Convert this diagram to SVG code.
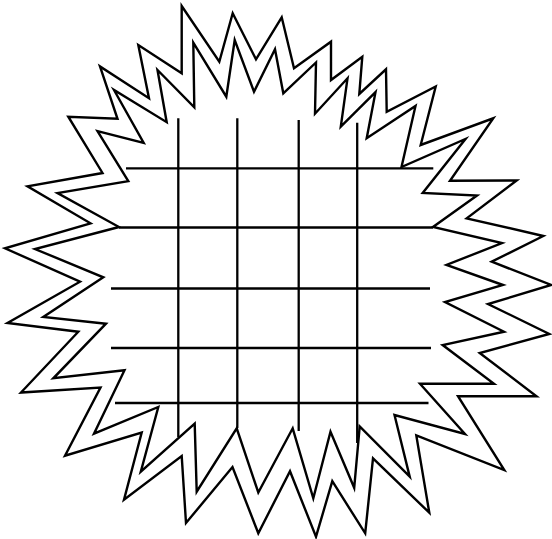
<svg xmlns="http://www.w3.org/2000/svg" width="552" height="539" viewBox="0 0 552 539">
<style>
.s{fill:none;stroke:#000;stroke-width:2.4;stroke-linejoin:miter;stroke-miterlimit:20}
.g{stroke:#000;stroke-width:2.3;fill:none}
</style>
<rect width="552" height="539" fill="#fff"/>
<g id="outer-star">
<polygon class="s" points="181.7,6 219.3,61.7 232.7,13.3 256,59.3 281.7,17.3 294,68.3 331,41.7 331,80 362.3,56.7 359.3,94 386,69.3 386.7,111.7 435.7,86.5 420.7,145 493.3,118.3 450,180.7 516.7,180.5 466.7,218.3 543.3,236 491.7,261.7 551.2,285 488,304 549.3,334 479.7,353 536.5,396.2 458,396.2 504.3,470 416.3,435.5 429.3,512.7 373,458.3 365.2,533.3 332.3,481.2 316,536.7 290,471.2 258.3,533.3 232.5,467 186,523 181.7,456 124,499.6 141.7,432.5 65,455.7 100.5,387.5 21,392.5 78.3,331.7 7.5,323 80,281.7 5,248.3 90.5,223.3 27.5,186.3 102.5,173 68.3,116.7 117.5,118.8 100,66.5 149,98.3 138.3,45 181.7,73.3"/>
</g>
<g id="inner-star">
<polygon class="s" points="193.3,42.7 226.3,96.7 234.7,40 254,91.7 275,49.3 283.3,93.3 316,62.5 315,113.7 347.5,78.3 340.8,126.7 375.5,92.2 366.7,138.3 415.5,106 401.5,167 465.5,139 422.7,193 477,195.5 433,227 502,243 446.5,265 503,285 445,302 504,331.7 442.7,345 494,383.7 420,383.7 465,434 394.5,415 409.7,476.7 359.7,426.5 354.2,487.8 330.5,431.7 313.3,498.3 292.7,428.3 258.3,492.5 236.7,428.3 196.7,491.7 194.7,423.7 140.8,471.7 158.3,407 94,433.7 124.5,370.3 53.3,378.3 106,323.7 43.3,317 103.3,277.3 35,249 119,227 57.5,193 128.3,181.2 97.5,131.2 143.7,143 114,90 166.7,122.2 157.5,70 194.3,107.3"/>
</g>
<g id="grid">
<line class="g" x1="178.3" y1="118.3" x2="178.3" y2="437"/>
<line class="g" x1="237.3" y1="118.3" x2="237.3" y2="428"/>
<line class="g" x1="298.7" y1="120" x2="298.7" y2="431"/>
<line class="g" x1="357.2" y1="122.7" x2="357.2" y2="443"/>
<line class="g" x1="126" y1="168.3" x2="433.3" y2="168.3"/>
<line class="g" x1="119" y1="227.5" x2="433" y2="227.5"/>
<line class="g" x1="111" y1="288.5" x2="430" y2="288.5"/>
<line class="g" x1="111" y1="348" x2="431" y2="348"/>
<line class="g" x1="115" y1="403" x2="428.5" y2="403"/>
</g>
</svg>
